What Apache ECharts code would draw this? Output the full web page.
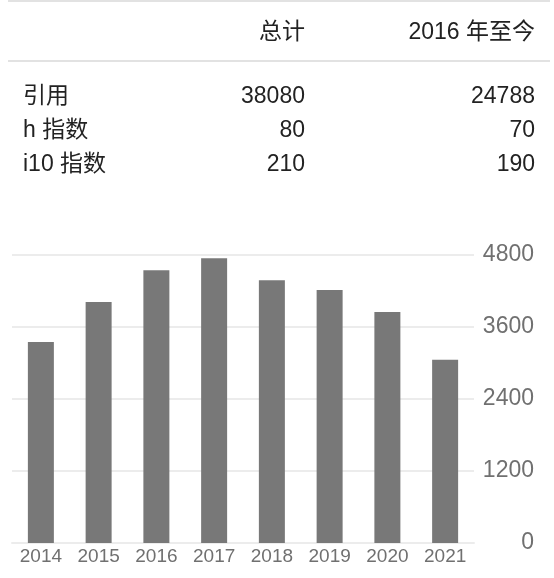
<!DOCTYPE html>
<html>
<head>
<meta charset="utf-8">
<script src="https://cdn.jsdelivr.net/npm/echarts@6/dist/echarts.min.js"></script>
<style>
  html, body { margin: 0; padding: 0; background: #fff; }
  #wrap { position: relative; width: 554px; height: 578px; overflow: hidden; }
  #chart { position: absolute; left: 0; top: 0; width: 554px; height: 578px; }
  #stats {
    position: absolute; left: 8px; top: 0; width: 542px;
    border-collapse: collapse; table-layout: fixed;
    font-family: "Liberation Sans", "Noto Sans CJK SC", sans-serif;
    font-size: 23px; color: #222; z-index: 2;
  }
  #stats th, #stats td { padding: 0; font-weight: normal; white-space: nowrap; }
  #stats thead tr { border-top: 2px solid #e2e2e2; border-bottom: 2px solid #e2e2e2; }
  #stats th { height: 58px; line-height: 58px; }
  #stats td { height: 34px; line-height: 34px; }
  #stats tbody tr:first-child td { padding-top: 16px; }
  #stats .c0 { text-align: left; padding-left: 15px; }
  #stats .c1 { text-align: right; }
  #stats .c2 { text-align: right; padding-right: 15px; }
</style>
</head>
<body>
<div id="wrap">
  <div id="chart"></div>
  <table id="stats">
    <colgroup><col style="width:177px"><col style="width:120px"><col style="width:245px"></colgroup>
    <thead></thead>
    <tbody></tbody>
  </table>
</div>
<script>
// 表格数据
var headers = ['', '总计', '2016 年至今'];
var rowNames = ['引用', 'h 指数', 'i10 指数'];
var totals = [38080, 80, 210];
var since2016 = [24788, 70, 190];

// 每年引用数
var years = ['2014', '2015', '2016', '2017', '2018', '2019', '2020', '2021'];
var citations = [3350, 4015, 4545, 4745, 4380, 4215, 3848, 3055];
var yTicks = [0, 1200, 2400, 3600, 4800];

var head = '<tr>';
for (var i = 0; i < headers.length; i++) {
  head += '<th class="c' + i + '">' + headers[i] + '</th>';
}
document.querySelector('#stats thead').innerHTML = head + '</tr>';

var body = '';
for (var j = 0; j < rowNames.length; j++) {
  body += '<tr><td class="c0">' + rowNames[j] + '</td>' +
    '<td class="c1">' + totals[j] + '</td>' +
    '<td class="c2">' + since2016[j] + '</td></tr>';
}
document.querySelector('#stats tbody').innerHTML = body;

var citeChart = echarts.init(document.getElementById('chart'));
var option = {
  animation: false,
  textStyle: { fontFamily: 'Liberation Sans' },
  grid: { left: 12, right: 80, top: 255, bottom: 35 },
  xAxis: [{
    type: 'category',
    data: years,
    axisLine: { lineStyle: { color: '#ececec', width: 2 } },
    axisTick: { show: false },
    axisLabel: { color: '#707070', fontSize: 19, margin: 4 }
  }],
  yAxis: [{
    type: 'value',
    position: 'right',
    min: yTicks[0],
    max: yTicks[yTicks.length - 1],
    interval: yTicks[1] - yTicks[0],
    axisLine: { show: false },
    axisTick: { show: false },
    splitLine: { lineStyle: { color: '#ececec', width: 2 } },
    axisLabel: {
      color: '#707070', fontSize: 23, align: 'right', margin: 60,
      formatter: function (v) { return String(v); }
    }
  }],
  series: [{
    type: 'bar',
    barWidth: 26,
    itemStyle: { color: '#787878' },
    data: citations
  }]
};
citeChart.setOption(option);
</script>
</body>
</html>
